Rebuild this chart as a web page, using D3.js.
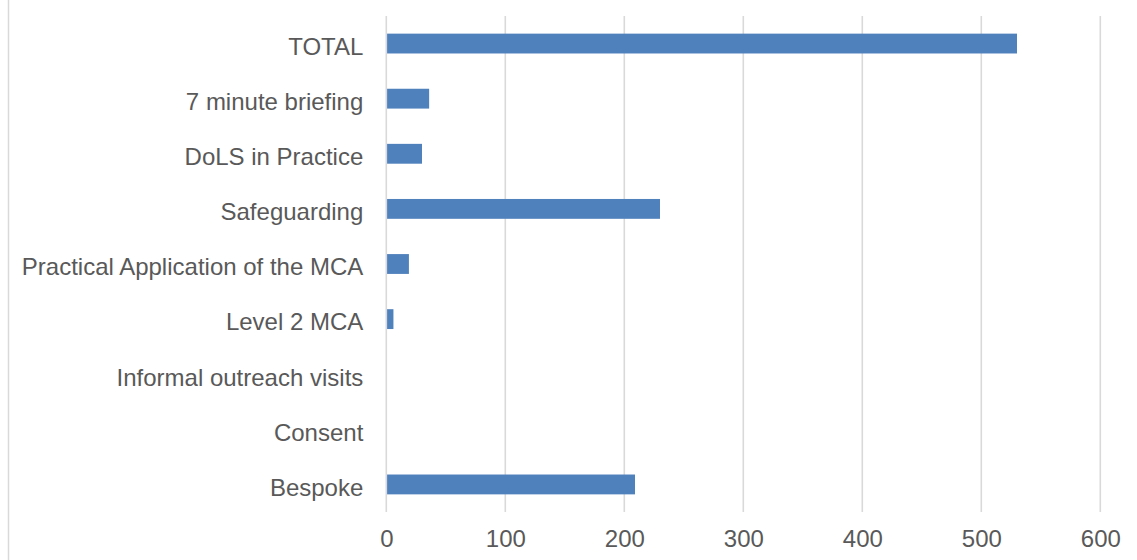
<!DOCTYPE html>
<html>
<head>
<meta charset="utf-8">
<script src="https://cdn.jsdelivr.net/npm/d3@7"></script>
<style>
  html, body { margin: 0; padding: 0; background: #fff; }
  svg { display: block; }
  text { font-family: "Liberation Sans", Arial, sans-serif; fill: #595959; }
</style>
</head>
<body>
<svg id="chart" width="1137" height="560"></svg>
<script>
// Training sessions by course (top to bottom as listed in the chart)
const categories = [
  "TOTAL",
  "7 minute briefing",
  "DoLS in Practice",
  "Safeguarding",
  "Practical Application of the MCA",
  "Level 2 MCA",
  "Informal outreach visits",
  "Consent",
  "Bespoke"
];
const values = [530, 36, 30, 230, 19, 6, 0, 0, 209];
const xTicks = [0, 100, 200, 300, 400, 500, 600];

const svg = d3.select("#chart");
const W = 1137, H = 560;
const plot = { left: 386.3, right: 1100.3, top: 16, bottom: 512 };
const fontSize = 24;

// outer frame edge
svg.append("line")
  .attr("x1", 8.5).attr("x2", 8.5)
  .attr("y1", 0).attr("y2", H)
  .attr("stroke", "#d9d9d9").attr("stroke-width", 1.5);

const x = d3.scaleLinear().domain([0, 600]).range([plot.left, plot.right]);
const y = d3.scaleBand()
  .domain(categories)
  .range([plot.top, plot.bottom])
  .paddingInner(0.64)
  .paddingOuter(0.32);

// vertical gridlines
svg.append("g")
  .selectAll("line")
  .data(xTicks)
  .join("line")
  .attr("x1", d => x(d)).attr("x2", d => x(d))
  .attr("y1", plot.top).attr("y2", plot.bottom)
  .attr("stroke", "#d9d9d9")
  .attr("stroke-width", 1.6);

// bars
svg.append("g")
  .selectAll("rect")
  .data(categories.map((c, i) => ({ c, v: values[i] })))
  .join("rect")
  .attr("x", x(0) + 0.8)
  .attr("y", d => y(d.c))
  .attr("width", d => Math.max(0, x(d.v) - x(0) - 0.8))
  .attr("height", y.bandwidth())
  .attr("fill", "#4f81bd");

// category axis labels
const yAxis = d3.axisLeft(y).tickSize(0).tickPadding(23);
const gy = svg.append("g").attr("transform", `translate(${plot.left},0)`).call(yAxis);
gy.select(".domain").remove();
gy.selectAll("text")
  .attr("font-size", fontSize)
  .attr("fill", "#595959")
  .attr("dy", "0.47em")
  .style("font-family", "'Liberation Sans', Arial, sans-serif");

// value axis labels
const xAxis = d3.axisBottom(x).tickValues(xTicks).tickSize(0).tickPadding(0);
const gx = svg.append("g").attr("transform", `translate(0,${plot.bottom})`).call(xAxis);
gx.select(".domain").remove();
gx.selectAll("text")
  .attr("font-size", fontSize)
  .attr("fill", "#595959")
  .attr("dy", null)
  .attr("y", 34.7)
  .style("font-family", "'Liberation Sans', Arial, sans-serif");
</script>
</body>
</html>
